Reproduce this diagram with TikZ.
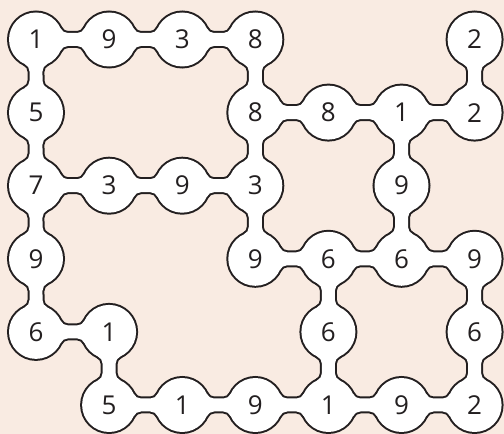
\documentclass[tikz,border=0pt]{standalone}
\usepackage{fontspec}
\setmainfont{Open Sans}
\usetikzlibrary{backgrounds}
\definecolor{bg}{RGB}{249,235,226}
\definecolor{ink}{RGB}{35,31,32}
\tikzset{
  cell/.style={circle, minimum size=54pt, inner sep=0pt, text=ink,
    font=\fontsize{26}{26}\selectfont},
  outline/.style={draw=ink, line width=4pt},
  inside/.style={fill=white},
}
\newcommand\hnecks{n00/n10, n10/n20, n20/n30, n31/n41, n41/n51, n51/n61,
  n02/n12, n12/n22, n22/n32, n33/n43, n43/n53, n53/n63, n04/n14,
  n15/n25, n25/n35, n35/n45, n45/n55, n55/n65}
\newcommand\vnecks{n00/n01, n01/n02, n02/n03, n03/n04, n14/n15,
  n30/n31, n31/n32, n32/n33, n43/n44, n44/n45, n51/n52, n52/n53,
  n60/n61, n63/n64, n64/n65}
\newcommand\cells{n00,n10,n20,n30,n60,n01,n31,n41,n51,n61,n02,n12,n22,n32,n52,
  n03,n33,n43,n53,n63,n04,n14,n44,n64,n15,n25,n35,n45,n55,n65}
\newcommand\drawall[1]{%
  \foreach \a/\b in \hnecks {%
    \path[#1, shift={(\a.center)}]
      (24.574,11.186) arc[start angle=204.47, end angle=270, radius=8]
      -- (41.245,6.5) arc[start angle=270, end angle=335.53, radius=8]
      -- (73.1,0) -- (48.526,-11.186)
      arc[start angle=24.47, end angle=90, radius=8]
      -- (31.855,-6.5) arc[start angle=90, end angle=155.53, radius=8]
      -- (0,0) -- cycle;}
  \foreach \a/\b in \vnecks {%
    \path[#1, shift={(\a.center)}, rotate=-90]
      (24.574,11.186) arc[start angle=204.47, end angle=270, radius=8]
      -- (41.245,6.5) arc[start angle=270, end angle=335.53, radius=8]
      -- (73.1,0) -- (48.526,-11.186)
      arc[start angle=24.47, end angle=90, radius=8]
      -- (31.855,-6.5) arc[start angle=90, end angle=155.53, radius=8]
      -- (0,0) -- cycle;}
  \foreach \n in \cells {\path[#1] (\n.center) circle[radius=27];}
}
\begin{document}
\begin{tikzpicture}[x=1pt, y=1pt]
\useasboundingbox (0,0) rectangle (504,434);
% rows: y = 434 - (39.5 + 73.1 r); cols: x = 36 + 73.1 c
\node[cell] (n00) at (36.0,394.5) {1};
\node[cell] (n10) at (109.1,394.5) {9};
\node[cell] (n20) at (182.2,394.5) {3};
\node[cell] (n30) at (255.3,394.5) {8};
\node[cell] (n60) at (474.6,394.5) {2};
\node[cell] (n01) at (36.0,321.4) {5};
\node[cell] (n31) at (255.3,321.4) {8};
\node[cell] (n41) at (328.4,321.4) {8};
\node[cell] (n51) at (401.5,321.4) {1};
\node[cell] (n61) at (474.6,321.4) {2};
\node[cell] (n02) at (36.0,248.3) {7};
\node[cell] (n12) at (109.1,248.3) {3};
\node[cell] (n22) at (182.2,248.3) {9};
\node[cell] (n32) at (255.3,248.3) {3};
\node[cell] (n52) at (401.5,248.3) {9};
\node[cell] (n03) at (36.0,175.2) {9};
\node[cell] (n33) at (255.3,175.2) {9};
\node[cell] (n43) at (328.4,175.2) {6};
\node[cell] (n53) at (401.5,175.2) {6};
\node[cell] (n63) at (474.6,175.2) {9};
\node[cell] (n04) at (36.0,102.1) {6};
\node[cell] (n14) at (109.1,102.1) {1};
\node[cell] (n44) at (328.4,102.1) {6};
\node[cell] (n64) at (474.6,102.1) {6};
\node[cell] (n15) at (109.1,29.0) {5};
\node[cell] (n25) at (182.2,29.0) {1};
\node[cell] (n35) at (255.3,29.0) {9};
\node[cell] (n45) at (328.4,29.0) {1};
\node[cell] (n55) at (401.5,29.0) {9};
\node[cell] (n65) at (474.6,29.0) {2};
\begin{scope}[on background layer]
  \fill[bg] (0,0) rectangle (504,434);
  \drawall{outline}
  \drawall{inside}
\end{scope}
\end{tikzpicture}
\end{document}
